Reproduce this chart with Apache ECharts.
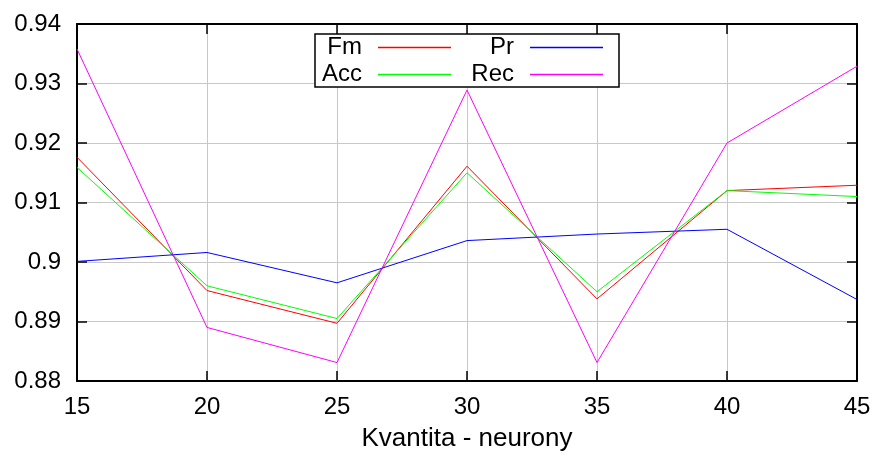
<!DOCTYPE html>
<html>
<head>
<meta charset="utf-8">
<script src="https://cdn.jsdelivr.net/npm/echarts@6/dist/echarts.min.js"></script>
<style>html,body{margin:0;padding:0;background:#fff}#c{width:877px;height:461px}</style>
</head>
<body>
<div id="c"></div>
<script>
var neurons = [15, 20, 25, 30, 35, 40, 45];
var fm  = [0.9176, 0.8952, 0.8897, 0.9161, 0.8938, 0.9120, 0.9129];
var acc = [0.9159, 0.8960, 0.8905, 0.9150, 0.8950, 0.9120, 0.9110];
var pr  = [0.9001, 0.9016, 0.8965, 0.9036, 0.9047, 0.9055, 0.8937];
var rec = [0.9358, 0.8890, 0.8831, 0.9289, 0.8831, 0.9200, 0.9329];
var xTitle = 'Kvantita - neurony';

function pairs(v) { return neurons.map(function (n, i) { return [n, v[i]]; }); }

var font = 'Liberation Sans';
var chart = echarts.init(document.getElementById('c'));
function line(name, data, color) {
  return { name: name, type: 'line', data: pairs(data), showSymbol: false, symbol: 'none',
    lineStyle: { color: color, width: 1 }, itemStyle: { color: color }, animation: false, z: 2 };
}
function legendFor(names, left) {
  return {
    show: true, orient: 'vertical', align: 'right', padding: 0, itemGap: 0,
    left: left, top: 34, data: names,
    itemWidth: 73, itemHeight: 1.5, icon: 'rect',
    textStyle: { fontFamily: font, fontSize: 24, color: '#000', width: 60, align: 'right',
      padding: [0, 11, 0, 0], lineHeight: 27 },
    selectedMode: false, z: 20
  };
}
chart.setOption({
  backgroundColor: '#fff',
  animation: false,
  grid: { left: 77, right: 20, top: 24, bottom: 80 },
  legend: [ legendFor(['Fm', 'Acc'], 302), legendFor(['Pr', 'Rec'], 454) ],
  graphic: [{
    type: 'rect', shape: { x: 315, y: 34, width: 304, height: 53 }, z: 1, zlevel: 0,
    style: { fill: '#fff', stroke: '#000', lineWidth: 1.5 }
  }],
  xAxis: [{
    type: 'value', min: 15, max: 45, interval: 5,
    name: xTitle, nameLocation: 'middle', nameGap: 45,
    nameTextStyle: { fontFamily: font, fontSize: 26, color: '#000' },
    axisLine: { lineStyle: { color: '#000', width: 2 } },
    axisTick: { inside: true, length: 10, lineStyle: { color: '#000', width: 1.5 } },
    axisLabel: { fontFamily: font, fontSize: 24, color: '#000', margin: 14 },
    splitLine: { show: true, lineStyle: { color: '#c8c8c8', width: 1 } }
  }, {
    type: 'value', position: 'top', min: 15, max: 45, interval: 5,
    axisLine: { show: true, lineStyle: { color: '#000', width: 2 } },
    axisTick: { show: true, inside: true, length: 10, lineStyle: { color: '#000', width: 1.5 } },
    axisLabel: { show: false }, splitLine: { show: false }
  }],
  yAxis: [{
    type: 'value', min: 0.88, max: 0.94, interval: 0.01,
    axisLine: { show: true, lineStyle: { color: '#000', width: 2 } },
    axisTick: { show: true, inside: true, length: 10, lineStyle: { color: '#000', width: 1.5 } },
    axisLabel: { fontFamily: font, fontSize: 24, color: '#000', margin: 16,
      formatter: function (v) { return String(Math.round(v * 100) / 100); } },
    splitLine: { show: true, lineStyle: { color: '#c8c8c8', width: 1 } }
  }, {
    type: 'value', position: 'right', min: 0.88, max: 0.94, interval: 0.01,
    axisLine: { show: true, lineStyle: { color: '#000', width: 2 } },
    axisTick: { show: true, inside: true, length: 10, lineStyle: { color: '#000', width: 1.5 } },
    axisLabel: { show: false }, splitLine: { show: false }
  }],
  series: [
    line('Fm', fm, '#ff0000'),
    line('Acc', acc, '#00ff00'),
    line('Pr', pr, '#0000ff'),
    line('Rec', rec, '#ff00ff')
  ]
});
</script>
</body>
</html>
